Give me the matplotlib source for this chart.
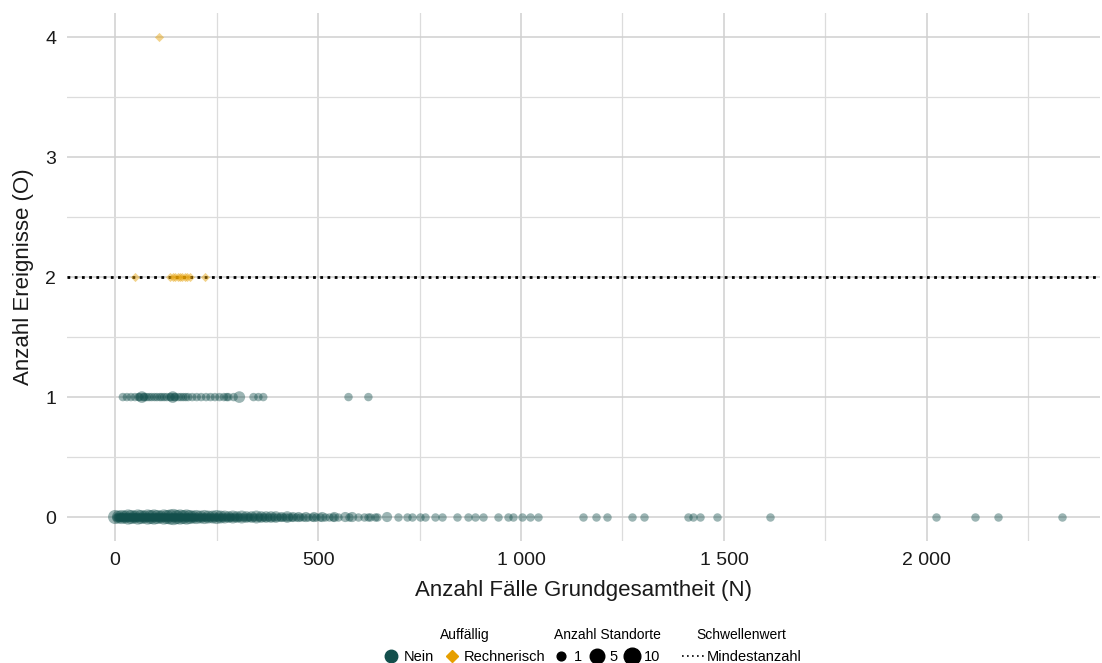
import matplotlib.pyplot as plt
from matplotlib.lines import Line2D
from matplotlib.ticker import FixedLocator, FuncFormatter

plt.rcParams['font.family'] = ['Liberation Sans', 'DejaVu Sans']

# --- data ---
# unauffaellig, 0 Ereignisse, 1 Standort each
nein_o0_n = [3, 5, 7, 9, 11, 13, 15, 17, 19, 21, 23, 25, 27, 29, 31, 33, 35, 37,
             40, 42, 44, 46, 48, 50, 52, 55, 57, 60, 62, 64, 67, 69, 71, 74, 76,
             79, 81, 83, 86, 88, 91, 93, 96, 98, 101, 103, 106, 108, 111, 113,
             116, 118, 121, 124, 126, 129, 131, 134, 137, 140, 142, 145, 148,
             151, 153, 156, 159, 162, 165, 168, 171, 174, 177, 180, 183, 186,
             189, 192, 195, 198, 201, 205, 208, 211, 215, 218, 222, 225, 229,
             232, 236, 240, 244, 248, 252, 256, 260, 264, 268, 273, 277, 282,
             286, 291, 296, 301, 306, 311, 316, 322, 327, 333, 339, 345, 351,
             357, 364, 370, 377, 384, 391, 398, 405, 413, 421, 429, 437, 446,
             455, 464, 474, 484, 494, 505, 516, 528, 537, 550, 575, 599, 612,
             623, 628, 640, 645, 697, 719, 731, 751, 764, 788, 805, 842, 869,
             887, 906, 943, 968, 980, 1002, 1022, 1042, 1153, 1185, 1212, 1273,
             1303, 1411, 1424, 1441, 1483, 1613, 2022, 2118, 2175, 2332]

# unauffaellig, 0 Ereignisse, several Standorte
nein_o0_big_n = [0, 8, 16, 24, 32, 40, 48, 56, 64, 72, 80, 88, 96, 104, 112,
                 120, 128, 136, 144, 152, 160, 168, 176, 184, 192, 200, 210,
                 220, 230, 240, 250, 260, 270, 280, 290, 300, 312, 324, 336,
                 348, 360, 372, 384, 396, 410, 424, 438, 452, 470, 490, 510,
                 540, 567, 584, 670]
nein_o0_big_sites = [5, 4, 5, 4, 6, 5, 4, 6, 5, 4, 6, 5, 6, 5, 4,
                     6, 5, 6, 7, 5, 6, 5, 6, 5, 4, 5, 4,
                     5, 4, 4, 5, 4, 4, 3, 4, 3, 4, 3, 3,
                     4, 3, 3, 3, 3, 2, 3, 2, 2, 2, 2, 2,
                     2, 2, 2, 2]

# unauffaellig, 1 Ereignis
nein_o1_n = [19, 29, 39, 49, 58, 60, 66, 70, 72, 78, 84, 90, 97, 103, 110, 115,
             121, 127, 135, 138, 142, 146, 148, 156, 162, 168, 174, 180, 190,
             201, 212, 224, 235, 246, 257, 268, 275, 279, 292, 306, 341, 353,
             365, 575, 624]
nein_o1_sites = [1, 1, 1, 1, 1, 1, 3, 1, 1, 1, 1, 1, 1, 1, 1, 1,
                 1, 1, 1, 1, 3, 1, 1, 1, 1, 1, 1, 1, 1,
                 1, 1, 1, 1, 1, 1, 1, 1, 1, 1, 3, 1, 1,
                 1, 1, 1]

# rechnerisch auffaellig
rech_n = [49, 135, 142, 148, 155, 160, 166, 172, 178, 185, 222, 107]
rech_o = [2, 2, 2, 2, 2, 2, 2, 2, 2, 2, 2, 4]

schwelle = 2

x_major = [0, 500, 1000, 1500, 2000]
x_minor = [250, 750, 1250, 1750, 2250]
y_major = [0, 1, 2, 3, 4]
y_minor = [0.5, 1.5, 2.5, 3.5]

teal = '#134f4c'
orange = '#E69F00'


def size_area(n):
    # area scale: 1 site ~ 8.5 px, 10 sites ~ 19 px diameter
    return 37 + (n - 1) * (187 - 37) / 9


fig = plt.figure(figsize=(11.02, 6.63), dpi=100)
ax = fig.add_axes([0.061, 0.184, 0.937, 0.796])

ax.axhline(schwelle, color='black', linestyle=(0, (1, 1.6)), linewidth=2, zorder=2)

ax.scatter(nein_o0_big_n, [0] * len(nein_o0_big_n),
           s=[size_area(n) for n in nein_o0_big_sites], color=teal,
           alpha=0.42, linewidths=0, zorder=3)
ax.scatter(nein_o0_n, [0] * len(nein_o0_n), s=size_area(1), color=teal,
           alpha=0.42, linewidths=0, zorder=3)
ax.scatter(nein_o1_n, [1] * len(nein_o1_n),
           s=[size_area(n) for n in nein_o1_sites], color=teal,
           alpha=0.42, linewidths=0, zorder=3)
ax.scatter(rech_n, rech_o, s=22, color=orange, marker='D',
           alpha=0.45, linewidths=0, zorder=3)

ax.set_xlim(-118, 2426)
ax.set_ylim(-0.2, 4.2)

ax.xaxis.set_major_locator(FixedLocator(x_major))
ax.xaxis.set_minor_locator(FixedLocator(x_minor))
ax.yaxis.set_major_locator(FixedLocator(y_major))
ax.yaxis.set_minor_locator(FixedLocator(y_minor))
ax.xaxis.set_major_formatter(FuncFormatter(lambda v, p: f"{int(v):,}".replace(',', ' ')))

ax.grid(True, which='major', color='#d0d0d0', linewidth=1.1, zorder=0)
ax.grid(True, which='minor', color='#dcdcdc', linewidth=0.9, zorder=0)
ax.set_axisbelow(True)
for sp in ax.spines.values():
    sp.set_visible(False)
ax.tick_params(which='both', length=0, labelsize=14, labelcolor='#1a1a1a')
ax.tick_params(axis='x', pad=8)
ax.tick_params(axis='y', pad=8)

ax.set_xlabel('Anzahl Fälle Grundgesamtheit (N)', fontsize=16, labelpad=8, color='#1a1a1a')
ax.set_ylabel('Anzahl Ereignisse (O)', fontsize=16, labelpad=8, color='#1a1a1a')

# --- legends ---
leg_kw = dict(frameon=False, fontsize=10.5, title_fontsize=10, loc='lower left',
              borderpad=0, handletextpad=0.35, columnspacing=0.7, labelspacing=0.5,
              handlelength=1.0)

h1 = [Line2D([], [], marker='o', color=teal, linestyle='', markersize=9),
      Line2D([], [], marker='D', color=orange, linestyle='', markersize=6.5)]
fig.legend(h1, ['Nein', 'Rechnerisch'], title='Auffällig', ncol=2,
           bbox_to_anchor=(0.342, -0.012), **leg_kw)

h2 = [Line2D([], [], marker='o', color='black', linestyle='', markersize=ms)
      for ms in (6.3, 10.5, 12.0)]
fig.legend(h2, ['1', '5', '10'], title='Anzahl Standorte', ncol=3,
           bbox_to_anchor=(0.496, -0.012), **dict(leg_kw, columnspacing=0.5))

h3 = [Line2D([], [], color='black', linestyle=(0, (1, 2)), linewidth=1.2)]
fig.legend(h3, ['Mindestanzahl'], title='Schwellenwert', ncol=1,
           bbox_to_anchor=(0.612, -0.012), **dict(leg_kw, handlelength=1.6, handletextpad=0.1))

fig.savefig('out.png', dpi=100)
